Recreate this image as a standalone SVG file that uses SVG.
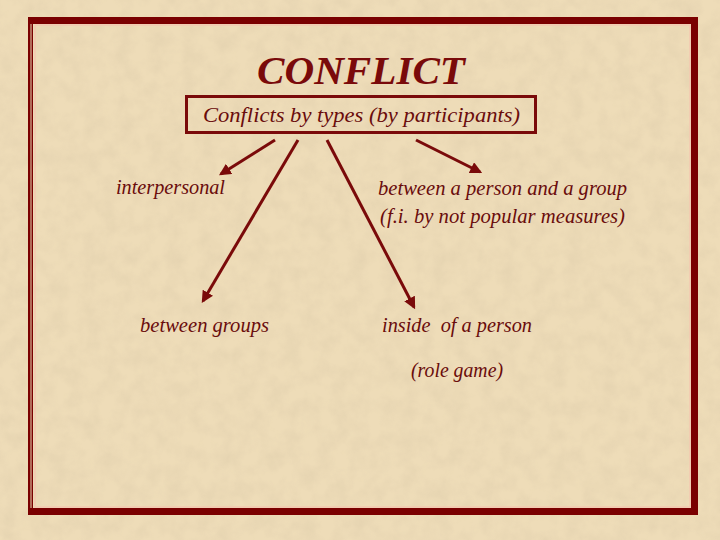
<svg xmlns="http://www.w3.org/2000/svg" width="720" height="540" viewBox="0 0 720 540">
  <style>
    .lbl { font-family: "Liberation Serif", "DejaVu Serif", serif; font-style: italic; font-size: 20px; fill: #6a0c0c; }
    .title { font-family: "Liberation Serif", "DejaVu Serif", serif; font-style: italic; font-weight: bold; font-size: 40px; fill: #7a0a0a; }
    .sub { font-family: "Liberation Serif", "DejaVu Serif", serif; font-style: italic; font-size: 22px; fill: #6a0c0c; }
    .frame { fill: #7a0000; }
    .conn { stroke: #7a0a0a; stroke-width: 3; fill: none; marker-end: url(#arr); }
  </style>
  <defs>
    <marker id="arr" viewBox="0 0 10 10" refX="8" refY="5" markerWidth="4" markerHeight="4" orient="auto" markerUnits="strokeWidth">
      <path d="M0,0 L10,5 L0,10 Z" fill="#7a0a0a"/>
    </marker>
    <filter id="paper" x="0" y="0" width="100%" height="100%">
      <feTurbulence type="fractalNoise" baseFrequency="0.06" numOctaves="3" seed="4" result="n"/>
      <feColorMatrix in="n" type="matrix" values="0 0 0 0 0.55  0 0 0 0 0.45  0 0 0 0 0.3  0 0 0 0.9 -0.3" result="c"/>
      <feComposite in="c" in2="SourceGraphic" operator="in"/>
    </filter>
  </defs>

  <!-- background -->
  <rect x="0" y="0" width="720" height="540" fill="#eedcb8"/>
  <rect x="0" y="0" width="720" height="540" fill="#eedcb8" filter="url(#paper)" opacity="0.35"/>

  <!-- frame -->
  <g id="frame">
    <rect x="35" y="25" width="655" height="482" fill="none" stroke="#f4c8b0" stroke-width="1.5"/>
    <rect class="frame" x="29" y="17" width="669" height="7"/>
    <rect class="frame" x="691" y="17" width="7" height="498"/>
    <rect class="frame" x="29" y="508" width="669" height="7"/>
    <rect class="frame" x="28" y="17" width="2.5" height="498"/>
    <rect class="frame" x="31.5" y="20" width="1.5" height="492"/>
  </g>

  <g id="title">
    <text class="title" x="361" y="84" text-anchor="middle" textLength="208" lengthAdjust="spacingAndGlyphs">CONFLICT</text>
  </g>

  <g id="types">
    <rect x="186.5" y="96.5" width="349" height="36" fill="none" stroke="#7a0a0a" stroke-width="3"/>
    <text class="sub" x="203" y="122" textLength="317" lengthAdjust="spacingAndGlyphs">Conflicts by types (by participants)</text>
  </g>

  <g id="connectors">
    <line class="conn" x1="275" y1="140" x2="221" y2="174"/>
    <line class="conn" x1="298" y1="140" x2="203" y2="301"/>
    <line class="conn" x1="327" y1="140" x2="414" y2="307"/>
    <line class="conn" x1="416" y1="140" x2="480" y2="172"/>
  </g>

  <g id="interpersonal">
    <text class="lbl" x="116" y="194" textLength="109" lengthAdjust="spacingAndGlyphs">interpersonal</text>
  </g>

  <g id="person-group">
    <text class="lbl" x="378" y="195" textLength="249" lengthAdjust="spacingAndGlyphs">between a person and a group</text>
    <text class="lbl" x="380" y="223" textLength="245" lengthAdjust="spacingAndGlyphs">(f.i.  by not popular measures)</text>
  </g>

  <g id="between-groups">
    <text class="lbl" x="140" y="332" textLength="129" lengthAdjust="spacingAndGlyphs">between groups</text>
  </g>

  <g id="inside-person">
    <text class="lbl" x="382" y="332" textLength="150" lengthAdjust="spacingAndGlyphs" xml:space="preserve">inside  of a person</text>
    <text class="lbl" x="411" y="377" textLength="92" lengthAdjust="spacingAndGlyphs">(role game)</text>
  </g>
</svg>
